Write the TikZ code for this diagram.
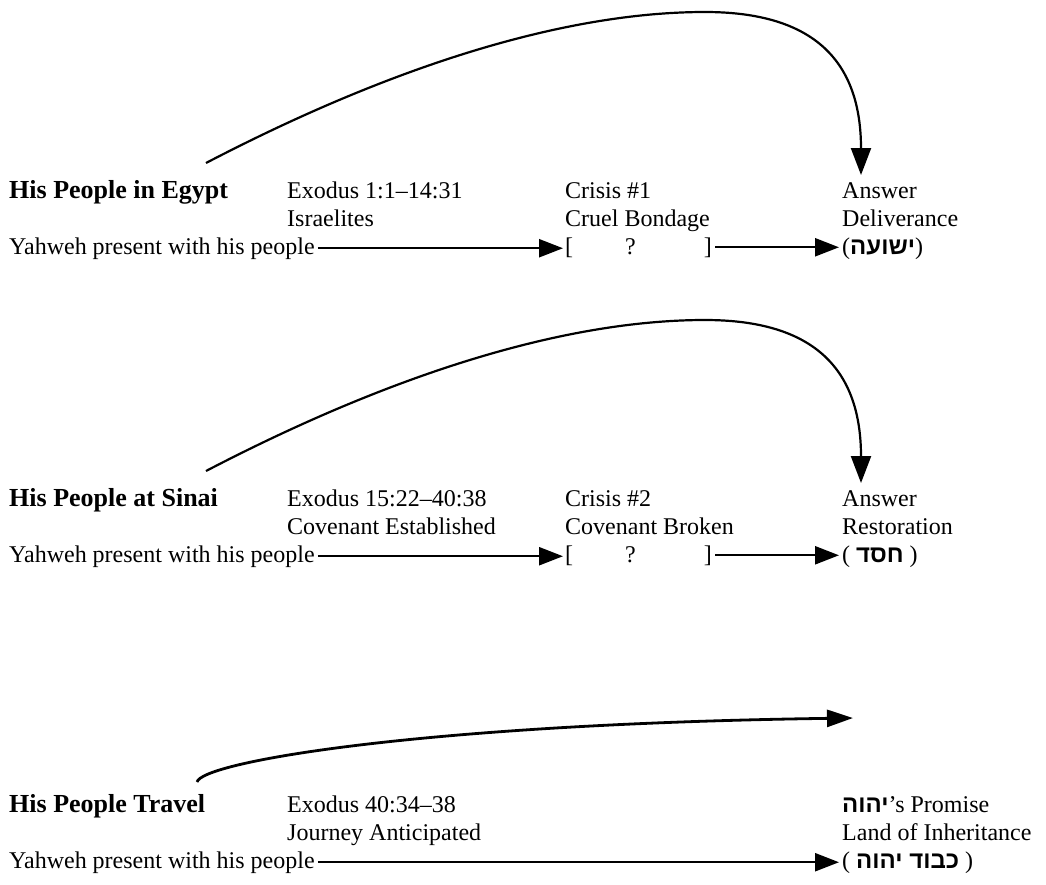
\documentclass[tikz,border=0pt]{standalone}
\usepackage{fontspec}
\setmainfont{Liberation Serif}
\newfontfamily\heb[Script=Hebrew]{Liberation Sans}
\TeXXeTstate=1
\usetikzlibrary{arrows.meta}
\begin{document}
\begin{tikzpicture}[x=1pt,y=-1pt,
  lbl/.style={anchor=base west, inner sep=0pt, font=\fontsize{24}{28}\selectfont},
  hd/.style={anchor=base west, inner sep=0pt, font=\fontsize{26}{28}\selectfont\bfseries},
  flow/.style={line width=2.4pt, -{Triangle[length=24pt,width=18pt]}},
  jump/.style={line width=2.2pt, -{Triangle[length=27pt,width=20pt]}},
  glide/.style={line width=2.8pt, -{Triangle[length=26pt,width=17pt]}},
]
\useasboundingbox (0,0) rectangle (1046,884);

% ---------- Row 1 ----------
\node[hd]  (h1)  at (9,198)   {His People in Egypt};
\node[lbl] (e1)  at (287,198) {Exodus 1:1–14:31};
\node[lbl] (e1b) at (287,226) {Israelites};
\node[lbl] (y1)  at (9,254)   {Yahweh present with his people};
\node[lbl] (c1)  at (565,198) {Crisis \#1};
\node[lbl] (c1b) at (565,226) {Cruel Bondage};
\node[lbl] (q1)  at (565,254) {[\hspace{52pt}?\hspace{68pt}]};
\node[lbl] (a1)  at (842,198) {Answer};
\node[lbl] (a1b) at (842,226) {Deliverance};
\node[lbl] (a1c) at (842,254) {({\heb\bfseries\beginR ישועה\endR})};
\draw[flow] ([xshift=3pt]y1.east) -- ([xshift=-2pt]y1.east -| q1.west);
\draw[flow] ([xshift=3pt]q1.east) -- ([xshift=-3pt]q1.east -| a1c.west);
\coordinate (s1) at (206,163);
\coordinate (t1) at (861,175);
\draw[jump] (s1) .. controls (400,62) and (570,12) .. (705,12)
                 .. controls (815,12) and (861,62) .. (t1);

% ---------- Row 2 ----------
\node[hd]  (h2)  at (9,506)   {His People at Sinai};
\node[lbl] (e2)  at (287,506) {Exodus 15:22–40:38};
\node[lbl] (e2b) at (287,534) {Covenant Established};
\node[lbl] (y2)  at (9,562)   {Yahweh present with his people};
\node[lbl] (c2)  at (565,506) {Crisis \#2};
\node[lbl] (c2b) at (565,534) {Covenant Broken};
\node[lbl] (q2)  at (565,562) {[\hspace{52pt}?\hspace{68pt}]};
\node[lbl] (a2)  at (842,506) {Answer};
\node[lbl] (a2b) at (842,534) {Restoration};
\node[lbl] (a2c) at (842,562) {( {\heb\bfseries\beginR חסד\endR} )};
\draw[flow] ([xshift=3pt]y2.east) -- ([xshift=-2pt]y2.east -| q2.west);
\draw[flow] ([xshift=3pt]q2.east) -- ([xshift=-3pt]q2.east -| a2c.west);
\coordinate (s2) at (206,471);
\coordinate (t2) at (861,483);
\draw[jump] (s2) .. controls (400,370) and (570,320) .. (705,320)
                 .. controls (815,320) and (861,370) .. (t2);

% ---------- Row 3 ----------
\node[hd]  (h3)  at (9,812)   {His People Travel};
\node[lbl] (e3)  at (287,812) {Exodus 40:34–38};
\node[lbl] (e3b) at (287,840) {Journey Anticipated};
\node[lbl] (y3)  at (9,868)   {Yahweh present with his people};
\node[lbl] (a3)  at (842,812) {{\heb\bfseries\beginR יהוה\endR}’s Promise};
\node[lbl] (a3b) at (842,840) {Land of Inheritance};
\node[lbl] (a3c) at (842,868) {( {\heb\bfseries\beginR כבוד יהוה\endR} )};
\draw[flow] ([xshift=3pt]y3.east) -- ([xshift=-3pt]y3.east -| a3c.west);
\coordinate (s3) at (197,782);
\coordinate (t3) at (853,718);
\draw[glide] (s3) .. controls (202,762) and (420,724) .. (t3);
\end{tikzpicture}
\end{document}
